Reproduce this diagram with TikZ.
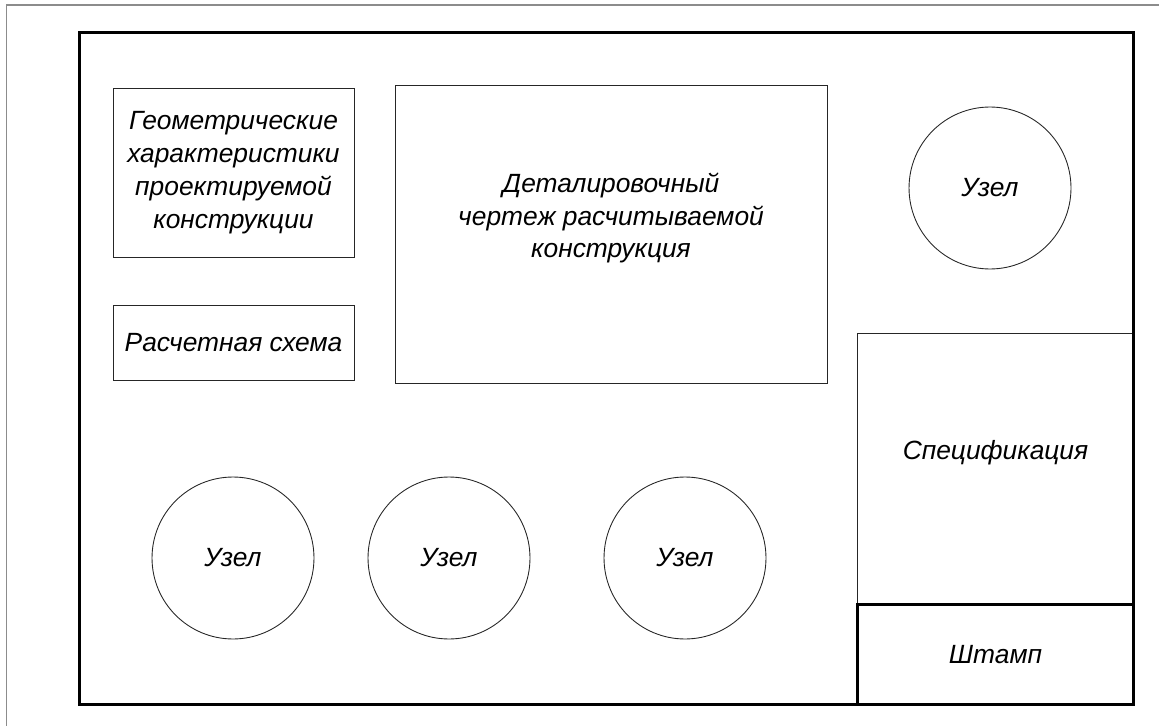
\documentclass[tikz,border=0pt]{standalone}
\usepackage{fontspec}
\setmainfont{Liberation Sans}
\begin{document}
\begin{tikzpicture}[x=0.02cm, y=0.02cm,
    every node/.style={font=\fontsize{15}{18.7}\selectfont\itshape, align=center},
    thinbox/.style={draw=black!85, line width=0.5pt, inner sep=0pt},
    thickbox/.style={draw, line width=1.7pt, inner sep=0pt},
    uzel/.style={draw=black!85, circle, line width=0.5pt, minimum size=3.24cm, inner sep=0pt}]
    \useasboundingbox (0,0) rectangle (1159,-726);
    \draw [black!45, line width=0.6pt] (6.5,-726) -- (6.5,-5) -- (1159,-5);
    \node [thinbox, minimum width=4.82cm, minimum height=3.38cm] (geom) at (233.5,-172.5) {Геометрические\\характеристики\\проектируемой\\конструкции};
    \node [thinbox, minimum width=4.82cm, minimum height=1.5cm] (calc) at (233.5,-342.5) {Расчетная схема};
    \node [thinbox, minimum width=8.64cm, minimum height=5.96cm] (detail) at (611,-234) {};
    \node (detailtext) at ([yshift=0.32cm]detail.center) {Деталировочный\\чертеж расчитываемой\\конструкция};
    \node [thinbox, minimum width=5.54cm, minimum height=5.42cm] (spec) at (995.5,-468.5) {};
    \node (spectext) at ([yshift=0.31cm]spec.center) {Спецификация};
    \node [thickbox, minimum width=21.1cm, minimum height=13.46cm] (frame) at (606.5,-368.5) {};
    \node [thickbox, minimum width=5.54cm, minimum height=2.02cm] (stamp) at (995.5,-654.5) {Штамп};
    \node [uzel] (uzel1) at (990,-188) {Узел};
    \node [uzel] (uzel2) at (233,-558) {Узел};
    \node [uzel] (uzel3) at (449,-558) {Узел};
    \node [uzel] (uzel4) at (685,-558) {Узел};
\end{tikzpicture}
\end{document}
